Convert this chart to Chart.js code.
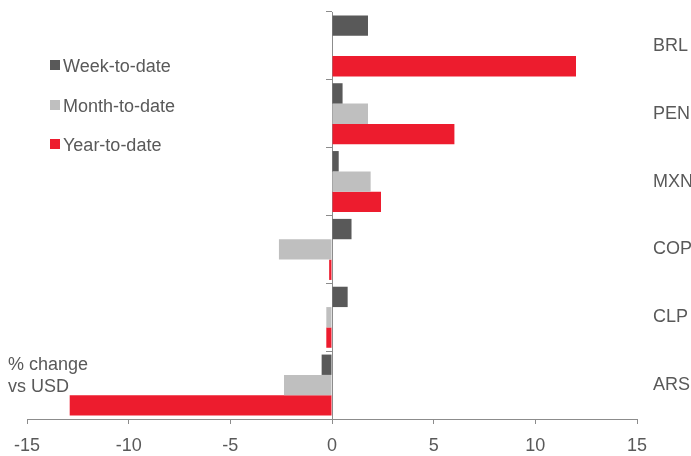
<!DOCTYPE html>
<html>
<head>
<meta charset="utf-8">
<script src="https://cdn.jsdelivr.net/npm/chart.js@4/dist/chart.umd.min.js"></script>
<style>
  html, body { margin: 0; padding: 0; background: #ffffff; }
  #wrap { position: relative; width: 691px; height: 456px; overflow: hidden; }
  canvas { position: absolute; left: 0; top: 0; }
  .txt { position: absolute; font-family: "Liberation Sans", Arial, sans-serif; font-size: 18px; line-height: 22px; color: #595959; white-space: nowrap; }
  .sw { position: absolute; width: 10px; height: 10px; }
</style>
</head>
<body>
<div id="wrap">
  <canvas id="c" width="691" height="456"></canvas>
  <div id="legend"></div>
  <div class="txt" style="left:8px; top:354px; line-height:21.5px;">% change<br>vs USD</div>
</div>
<script>
const categories = ["BRL", "PEN", "MXN", "COP", "CLP", "ARS"];
const seriesNames = ["Week-to-date", "Month-to-date", "Year-to-date"];
const weekToDate  = [1.77, 0.52, 0.33, 0.96, 0.77, -0.51];
const monthToDate = [null, 1.77, 1.90, -2.61, -0.28, -2.36];
const yearToDate  = [12.0, 6.02, 2.41, -0.14, -0.28, -12.9];
const xTicks = [-15, -10, -5, 0, 5, 10, 15];
const colors = ["#595959", "#bfbfbf", "#ed1c2e"];

const textColor = "#595959";
const axisColor = "#8c8c8c";
const fontFamily = '"Liberation Sans", Arial, sans-serif';

const chart = new Chart(document.getElementById("c"), {
  type: "bar",
  data: {
    labels: categories,
    datasets: [
      { label: seriesNames[0], data: weekToDate,  backgroundColor: colors[0] },
      { label: seriesNames[1], data: monthToDate, backgroundColor: colors[1] },
      { label: seriesNames[2], data: yearToDate,  backgroundColor: colors[2] }
    ]
  },
  options: {
    indexAxis: "y",
    responsive: false,
    devicePixelRatio: 1,
    animation: false,
    categoryPercentage: 0.9,
    barPercentage: 1.0,
    borderWidth: 0,
    layout: { padding: { left: 27, top: 12, right: 0, bottom: 0 } },
    plugins: { legend: { display: false }, tooltip: { enabled: false } },
    scales: {
      x: {
        type: "linear",
        position: "bottom",
        min: xTicks[0],
        max: xTicks[xTicks.length - 1],
        afterBuildTicks: (s) => { s.ticks = xTicks.map(v => ({ value: v })); },
        afterFit: (s) => { s.height = 37; },
        grid: { drawOnChartArea: false, color: axisColor, tickLength: 5, lineWidth: 1 },
        border: { color: axisColor, width: 1 },
        ticks: { color: textColor, font: { family: fontFamily, size: 18 }, padding: 11, maxRotation: 0 }
      },
      y: {
        type: "category",
        position: "right",
        offset: true,
        afterFit: (s) => { s.width = 54; s.paddingTop = 0; s.paddingBottom = 0; },
        grid: { display: false, drawTicks: false },
        border: { display: false },
        ticks: { color: textColor, font: { family: fontFamily, size: 18 }, padding: 16, crossAlign: "near" }
      },
      y0: {
        type: "category",
        position: { x: 0 },
        offset: true,
        grid: { offset: true, drawOnChartArea: false, color: axisColor, tickLength: 6, lineWidth: 1 },
        border: { color: axisColor, width: 1 },
        ticks: { display: false }
      }
    }
  }
});

// HTML legend generated from the chart's datasets
const legendTops = [55, 95, 134];
const legendEl = document.getElementById("legend");
chart.data.datasets.forEach((ds, i) => {
  const sw = document.createElement("div");
  sw.className = "sw";
  sw.style.left = "50px";
  sw.style.top = (legendTops[i] + 5) + "px";
  sw.style.background = ds.backgroundColor;
  legendEl.appendChild(sw);
  const t = document.createElement("div");
  t.className = "txt";
  t.style.left = "63px";
  t.style.top = legendTops[i] + "px";
  t.textContent = ds.label;
  legendEl.appendChild(t);
});
</script>
</body>
</html>
